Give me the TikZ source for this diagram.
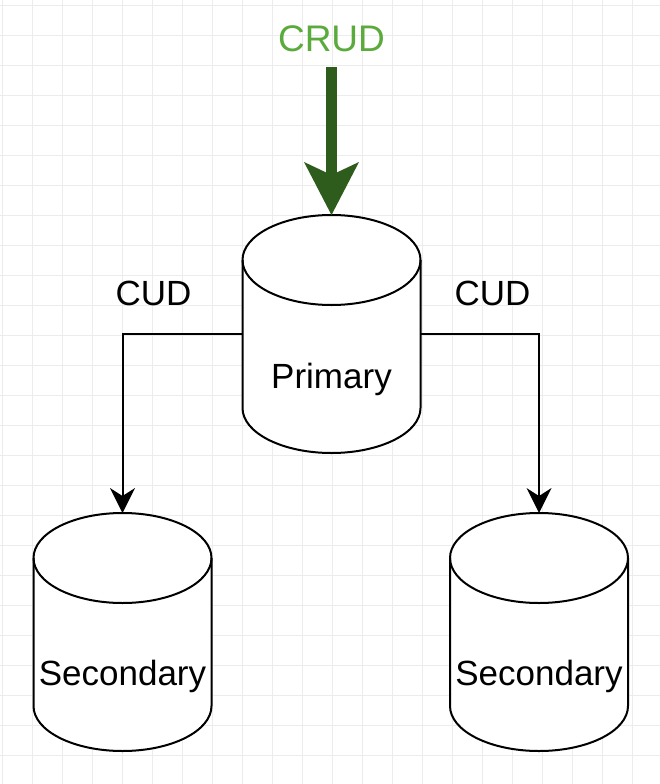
\documentclass[tikz,border=0pt]{standalone}
\usepackage{fontspec}
\setmainfont{Liberation Sans}
\usetikzlibrary{arrows.meta,calc}
\definecolor{crudgreen}{RGB}{90,170,60}
\definecolor{arrowgreen}{RGB}{45,92,28}
\definecolor{gridgray}{RGB}{236,236,236}
\tikzset{
  gridline/.style={draw=gridgray, line width=0.8pt},
  dbbox/.style={rectangle, draw=none, inner sep=0pt, outer sep=0pt, minimum width=178pt, minimum height=238pt},
  cylline/.style={draw=black, line width=2pt, fill=white},
  lbl/.style={font=\fontsize{35}{42}\selectfont, inner sep=0pt, anchor=base},
  conn/.style={draw=black, line width=2pt, -{Stealth[length=25pt,width=25pt,inset=8pt,line width=0pt]}},
  bigarrow/.style={draw=arrowgreen, line width=11pt, -{Stealth[length=53pt,width=55pt,inset=13pt,line width=0pt]}}
}
\begin{document}
\begin{tikzpicture}[x=1pt,y=-1pt]
\useasboundingbox (0,0) rectangle (660,784);
\fill[white] (0,0) rectangle (660,784);
\foreach \gx in {2,32,...,662} \draw[gridline] (\gx,0) -- (\gx,784);
\foreach \gy in {5,35,...,785} \draw[gridline] (0,\gy) -- (660,\gy);

\node[dbbox] (P) at (331.5,334) {};
\node[dbbox] (S1) at (122.5,632) {};
\node[dbbox] (S2) at (539,632) {};

\foreach \n in {P,S1,S2}{
  \draw[cylline] ($(\n.north west)+(0,45)$) -- ($(\n.south west)+(0,-45)$)
    arc[start angle=180,end angle=360,x radius=89pt,y radius=45pt]
    -- ($(\n.north east)+(0,45)$)
    arc[start angle=0,end angle=180,x radius=89pt,y radius=45pt] -- cycle;
  \draw[line width=2pt] ($(\n.north west)+(0,45)$)
    arc[start angle=180,end angle=360,x radius=89pt,y radius=45pt];
}

\node[lbl] (Pt) at (331.5,388) {Primary};
\node[lbl] (S1t) at (122.5,685) {Secondary};
\node[lbl] (S2t) at (539,685) {Secondary};
\node[lbl] (L1) at (153.5,305) {CUD};
\node[lbl] (L2) at (492.5,305) {CUD};
\node[lbl, text=crudgreen, font=\fontsize{37}{44}\selectfont] (crud) at (331.5,52) {CRUD};

\coordinate (src) at (331.5,67);
\draw[bigarrow] (src) -- (P.north);
\draw[conn] (P.west) -| (S1.north);
\draw[conn] (P.east) -| (S2.north);
\end{tikzpicture}
\end{document}
